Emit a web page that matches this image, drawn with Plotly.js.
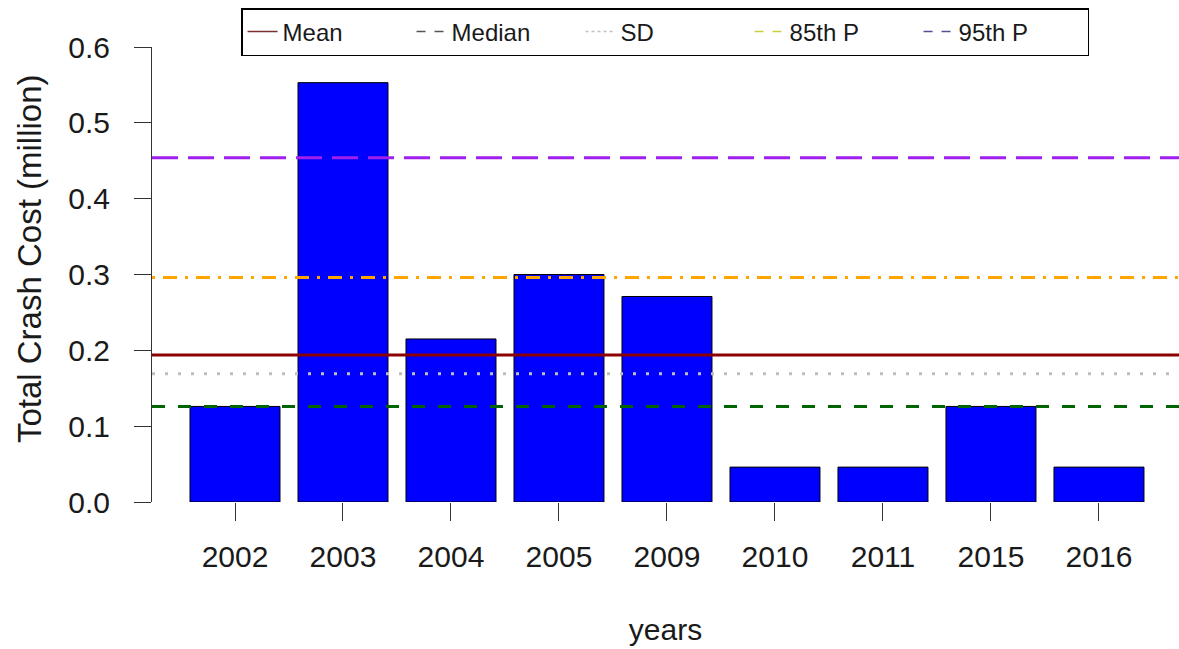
<!DOCTYPE html>
<html>
<head>
<meta charset="utf-8">
<script src="https://cdn.plot.ly/plotly-3.0.1.min.js"></script>
<style>html,body{margin:0;padding:0;background:#fff;}#chart{width:1179px;height:649px;}</style>
</head>
<body>
<div id="chart"></div>
<script>
// ---- data ----
const years = ['2002','2003','2004','2005','2009','2010','2011','2015','2016'];
const totalCost = [0.126, 0.553, 0.215, 0.300, 0.271, 0.046, 0.046, 0.126, 0.046];

const statNames  = ['Mean', 'Median', 'SD', '85th P', '95th P'];
const statValues = [0.194, 0.126, 0.169, 0.296, 0.454];
const statColors = ['#8B0000', '#006400', '#BEBEBE', '#FFA500', '#A020F0'];
const statDash   = ['solid', '13px,13px', '3px,10px', '3px,8px,14px,8px', '26px,10px'];
const legendColors = ['#7a3030', '#555555', '#c0c0c0', '#c8d040', '#505090'];
const legendDash   = ['solid', 'dash', 'dot', 'dash', 'dash'];

const FONT = 'Liberation Sans, Arial, sans-serif';
const TXT = '#1a1a1a';

const traces = [{
  type: 'bar',
  x: years,
  y: totalCost,
  marker: {color: '#0000FF', line: {color: '#000000', width: 1}},
  showlegend: false,
  hoverinfo: 'x+y'
}];

statNames.forEach((n, i) => {
  traces.push({
    type: 'scatter', mode: 'lines',
    x: [null], y: [null],
    name: n,
    line: {color: legendColors[i], width: 1.5, dash: legendDash[i]},
    showlegend: true
  });
});

const shapes = statValues.map((v, i) => ({
  type: 'line', xref: 'paper', yref: 'y',
  x0: 0, x1: 1, y0: v, y1: v,
  layer: 'above',
  line: {color: statColors[i], width: 3, dash: statDash[i]}
}));

const layout = {
  width: 1179, height: 649,
  margin: {l: 152, r: 0, t: 47, b: 147},
  paper_bgcolor: '#ffffff',
  plot_bgcolor: '#ffffff',
  font: {family: FONT, color: TXT, size: 30},
  bargap: 0.1667,
  xaxis: {
    type: 'category',
    range: [-0.7685, 8.741],
    showline: false, showgrid: false, zeroline: false,
    ticks: 'outside', ticklen: 18, tickwidth: 1, tickcolor: '#333',
    ticklabelstandoff: 10,
    tickfont: {size: 30, color: TXT},
    title: {text: 'years', font: {size: 30, color: TXT}, standoff: 46},
    automargin: false
  },
  yaxis: {
    range: [0, 0.6],
    tickvals: [0, 0.1, 0.2, 0.3, 0.4, 0.5, 0.6],
    ticktext: ['0.0', '0.1', '0.2', '0.3', '0.4', '0.5', '0.6'],
    showline: true, linecolor: '#333', linewidth: 1,
    showgrid: false, zeroline: false,
    ticks: 'outside', ticklen: 17, tickwidth: 1, tickcolor: '#333',
    ticklabelstandoff: 18,
    tickfont: {size: 30, color: TXT},
    automargin: false
  },
  annotations: [{
    text: 'Total Crash Cost (million)',
    xref: 'paper', yref: 'paper',
    x: -0.1198, y: 0.536,
    xanchor: 'center', yanchor: 'middle',
    textangle: -90, showarrow: false,
    font: {size: 33, color: TXT, family: FONT}
  }],
  shapes: shapes,
  legend: {
    orientation: 'h',
    x: 0.0867, xanchor: 'left',
    y: 1.0857, yanchor: 'top',
    bordercolor: '#000', borderwidth: 1.5,
    bgcolor: '#ffffff',
    font: {size: 24, color: TXT, family: FONT},
    entrywidth: 124, entrywidthmode: 'pixels',
    traceorder: 'normal'
  },
  showlegend: true
};

Plotly.newPlot('chart', traces, layout, {displayModeBar: false, staticPlot: true});
</script>
</body>
</html>
